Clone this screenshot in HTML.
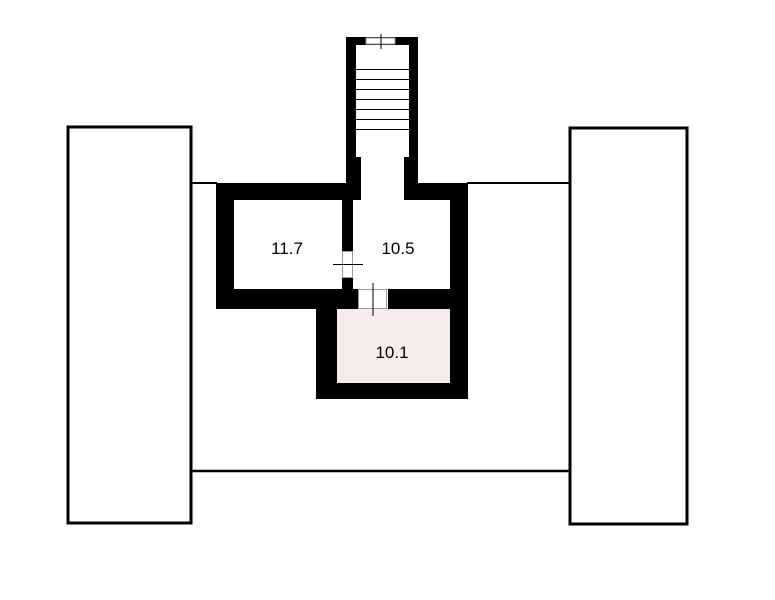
<!DOCTYPE html>
<html><head><meta charset="utf-8"><style>body{margin:0;background:#fff}svg{display:block}</style></head>
<body>
<svg width="775" height="600" viewBox="0 0 775 600" xmlns="http://www.w3.org/2000/svg">
<rect width="775" height="600" fill="#fff"/>
<rect x="68" y="127" width="123" height="396" fill="none" stroke="#000" stroke-width="3"/>
<rect x="570" y="128" width="117" height="396" fill="none" stroke="#000" stroke-width="3"/>
<line x1="191" y1="183" x2="217" y2="183" stroke="#000" stroke-width="2"/>
<line x1="467" y1="183" x2="570" y2="183" stroke="#000" stroke-width="2"/>
<line x1="191" y1="471" x2="570" y2="471" stroke="#000" stroke-width="2.5"/>
<path d="M346,37 H418 V183 H468 V399 H316 V309 H216 V183 H346 Z" fill="#000"/>
<path d="M356,45 H409 V157 H404 V200 H450 V289 H388 V309 H358 V289 H353 V200 H361 V157 H356 Z" fill="#fff"/>
<rect x="234" y="200" width="108" height="89" fill="#fff"/>
<rect x="337" y="309" width="113" height="74" fill="#f3ece9"/>
<rect x="366" y="38" width="29" height="6" fill="#fff" stroke="#999" stroke-width="1"/>
<line x1="381" y1="34" x2="381" y2="49" stroke="#000" stroke-width="1"/>
<g stroke="#000" stroke-width="1">
<line x1="356" y1="69.5" x2="409" y2="69.5"/>
<line x1="356" y1="79.5" x2="409" y2="79.5"/>
<line x1="356" y1="89.5" x2="409" y2="89.5"/>
<line x1="356" y1="99.5" x2="409" y2="99.5"/>
<line x1="356" y1="109.5" x2="409" y2="109.5"/>
<line x1="356" y1="119.5" x2="409" y2="119.5"/>
<line x1="356" y1="129.5" x2="409" y2="129.5"/>
</g>
<rect x="342.5" y="251.5" width="10" height="26" fill="#fff" stroke="#999" stroke-width="1"/>
<line x1="333" y1="264.5" x2="363" y2="264.5" stroke="#000" stroke-width="1"/>
<rect x="358.5" y="289.5" width="28" height="19" fill="#fff" stroke="#999" stroke-width="1"/>
<line x1="373" y1="283" x2="373" y2="316" stroke="#000" stroke-width="1"/>
<g font-family="Liberation Sans, sans-serif" font-size="17" text-anchor="middle" fill="#000">
<text x="287" y="254">11.7</text>
<text x="398" y="254">10.5</text>
<text x="392" y="358">10.1</text>
</g>
</svg>
</body></html>
